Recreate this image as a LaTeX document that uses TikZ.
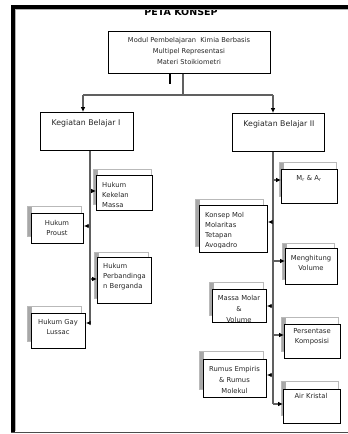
\documentclass[tikz,border=0pt]{standalone}
\usepackage{fontspec}
\setmainfont{DejaVu Sans}
\usetikzlibrary{arrows.meta}
\tikzset{
  fbox/.style={draw=black, fill=white, line width=0.9pt, inner sep=0pt, anchor=north west},
  sbox/.style={draw=gray!55, fill=white, line width=0.9pt, inner sep=0pt, anchor=north west,
    path picture={\fill[left color=gray!70, right color=gray!10] (path picture bounding box.north west) rectangle ([xshift=4pt]path picture bounding box.south west);}},
  conn/.style={draw=gray!75!black, line width=1.1pt},
  arr/.style={conn, -{Latex[length=4.8pt,width=4.6pt,color=black]}},
  txt/.style={inner sep=0pt, text=black!85, font=\fontsize{6.8}{10}\selectfont},
  ltxt/.style={txt, align=left, anchor=west},
  ctxt/.style={txt, align=center, anchor=center},
}
\begin{document}
\begin{tikzpicture}[x=1pt,y=-1pt]
\useasboundingbox (0,0) rectangle (348,434);
\fill[white] (0,0) rectangle (348,434);
% title
\node[inner sep=0pt, anchor=base, font=\bfseries\fontsize{9.5}{11}\selectfont] (title) at (181,15) {PETA KONSEP};
% frame
\fill[black] (11,5) rectangle (348,9);
\draw[gray!60, line width=0.6pt] (15,9.4) -- (348,9.4);
\fill[black] (11,5) rectangle (15,433);
\draw[gray!60, line width=0.6pt] (15.4,9) -- (15.4,431);
\draw[gray!60!black, line width=1pt] (11,432) -- (348,432);

% main box
\node[fbox, minimum width=162pt, minimum height=42pt] (main) at (108,31) {};
\node[ctxt, font=\fontsize{6.7}{11}\selectfont] (maint) at (189,51) {Modul Pembelajaran\ \ Kimia Berbasis\\Multipel Representasi\\Materi Stoikiometri};
\draw[black, line width=1.4pt] (170,74) -- (170,84);

% KB boxes
\node[fbox, minimum width=93pt, minimum height=38pt] (kb1) at (40,112) {};
\node[ctxt, font=\fontsize{7.8}{10}\selectfont] (kb1t) at (86,123) {Kegiatan Belajar I};
\node[fbox, minimum width=92pt, minimum height=38pt] (kb2) at (232,113) {};
\node[ctxt, font=\fontsize{7.8}{10}\selectfont] (kb2t) at (279,124) {Kegiatan Belajar II};

% top connectors
\coordinate (j) at (183,95);
\coordinate (b1) at (83,95);
\coordinate (b2) at (273,95);
\draw[conn] (main.south -| j) -- (j);
\draw[conn] (b1) -- (b2);
\draw[arr] (b1) -- (b1 |- kb1.north);
\draw[arr] (b2) -- (b2 |- kb2.north);

% left children
\node[sbox, minimum width=58pt, minimum height=35pt] (kks) at (93,169) {};
\node[fbox, minimum width=56pt, minimum height=35pt] (kk) at (96,175) {};
\begin{scope}
\clip (96,175) rectangle (152,208);
\node[ltxt] (kkt) at (102,195) {Hukum\\Kekelan\\Massa};
\end{scope}

\node[sbox, minimum width=54pt, minimum height=30pt] (prs) at (27,206) {};
\node[fbox, minimum width=52pt, minimum height=30pt] (pr) at (31,213) {};
\node[ctxt] (prt) at (57,227.5) {Hukum\\Proust};

\node[sbox, minimum width=54pt, minimum height=46pt] (pbs) at (94,252) {};
\node[fbox, minimum width=54pt, minimum height=46pt] (pb) at (97,257) {};
\node[ltxt] (pbt) at (103,277) {Hukum\\Perbandinga\\n Berganda};

\node[sbox, minimum width=54pt, minimum height=35pt] (gls) at (27,306) {};
\node[fbox, minimum width=54pt, minimum height=35pt] (gl) at (31,313) {};
\node[ctxt] (glt) at (58,327) {Hukum Gay\\Lussac};

% left spine
\coordinate (sL) at (90,323);
\draw[conn] (sL |- kb1.south) -- (sL);
\draw[arr] (90,191) -- (kk.west |- 0,191);
\draw[arr] (90,226) -- (pr.east |- 0,226);
\draw[arr] (90,279) -- (pb.west |- 0,279);
\draw[arr] (sL) -- (gl.east |- sL);

% right children
\node[sbox, minimum width=57pt, minimum height=34pt] (mrs) at (279,162) {};
\node[fbox, minimum width=56pt, minimum height=34pt] (mr) at (281,169) {};
\node[ctxt] (mrt) at (309,178) {M\textsubscript{r} \& A\textsubscript{r}};

\node[sbox, minimum width=68pt, minimum height=47pt] (kms) at (195,199) {};
\node[fbox, minimum width=68pt, minimum height=47pt] (km) at (199,205) {};
\begin{scope}
\clip (199,205) rectangle (267,247.5);
\node[ltxt] (kmt) at (205,231) {Konsep Mol\\Molaritas\\Tetapan\\Avogadro};
\end{scope}

\node[sbox, minimum width=52pt, minimum height=36pt] (mvs) at (282,243) {};
\node[fbox, minimum width=52pt, minimum height=36pt] (mv) at (285,248) {};
\node[ctxt] (mvt) at (311,262.5) {Menghitung\\Volume};

\node[sbox, minimum width=54pt, minimum height=33pt] (mms) at (209,282) {};
\node[fbox, minimum width=54pt, minimum height=33pt] (mm) at (212,289) {};
\begin{scope}
\clip (212,289) rectangle (266,321);
\node[ctxt, font=\fontsize{6.8}{11}\selectfont] (mmt) at (239,309) {Massa Molar\\\&\\Volume};
\end{scope}

\node[sbox, minimum width=57pt, minimum height=34pt] (pks) at (281,317) {};
\node[fbox, minimum width=56pt, minimum height=34pt] (pk) at (284,324) {};
\node[ctxt] (pkt) at (312,336.5) {Persentase\\Komposisi};

\node[sbox, minimum width=64pt, minimum height=38pt] (res) at (199,351) {};
\node[fbox, minimum width=63pt, minimum height=38pt] (re) at (203,359) {};
\node[ctxt, font=\fontsize{6.8}{11}\selectfont] (ret) at (234.5,380) {Rumus Empiris\\\& Rumus\\Molekul};

\node[sbox, minimum width=57pt, minimum height=34pt] (aks) at (281,381) {};
\node[fbox, minimum width=57pt, minimum height=34pt] (ak) at (283,389) {};
\node[ctxt] (akt) at (311,396) {Air Kristal};

% right spine
\coordinate (sR) at (273,404);
\draw[conn] (sR |- kb2.south) -- (sR);
\draw[arr] (273,180) -- (mr.west |- 0,180);
\draw[arr] (273,222) -- (km.east |- 0,222);
\draw[arr] (273,261) -- (mv.west |- 0,261);
\draw[arr] (273,306) -- (mm.east |- 0,306);
\draw[arr] (273,335) -- (pk.west |- 0,335);
\draw[arr] (273,375) -- (re.east |- 0,375);
\draw[arr] (sR) -- (ak.west |- sR);
\end{tikzpicture}
\end{document}
